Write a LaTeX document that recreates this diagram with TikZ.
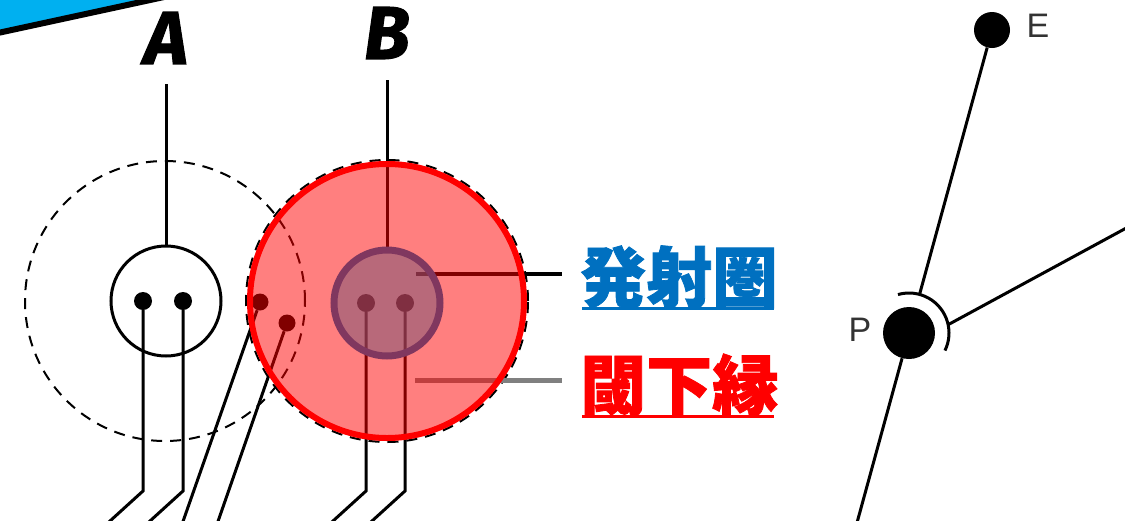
\documentclass[tikz,border=0pt]{standalone}
\usepackage{fontspec}
\newfontfamily\letterfont{Fira Sans}[FakeBold=1.5]
\newfontfamily\cjkfont{Noto Sans CJK JP}[FakeBold=1.2]
\newfontfamily\pointfont{Liberation Sans}
\usetikzlibrary{positioning}
\definecolor{wedgeblue}{HTML}{00B0F0}
\definecolor{ringblue}{HTML}{0070C0}
\begin{document}
\begin{tikzpicture}[x=1pt,y=-1pt,
    wire/.style={line width=3pt},
    dot/.style={circle,fill=black,inner sep=0pt,minimum size=18pt},
    spot/.style={circle,fill=black,inner sep=0pt,minimum size=#1},
    cell/.style={circle,draw,line width=3pt,inner sep=0pt,minimum size=110pt},
    field/.style={circle,draw,line width=2pt,dash pattern=on 11pt off 8pt,inner sep=0pt,minimum size=280pt},
    ring/.style={circle,draw=ringblue,line width=7pt,fill=wedgeblue,fill opacity=0.55,inner sep=0pt,minimum size=106pt},
    zone/.style={circle,draw=red,line width=6pt,fill=red,fill opacity=0.5,inner sep=0pt,minimum size=274pt},
    letter/.style={inner sep=0pt,font=\fontsize{75}{75}\selectfont\letterfont\bfseries\itshape},
    tag/.style={inner sep=0pt,anchor=west,font=\fontsize{66}{66}\selectfont\cjkfont\bfseries},
    pname/.style={inner sep=0pt,text=black!80,font=\fontsize{34}{34}\selectfont\pointfont}]
  \useasboundingbox (0,0) rectangle (1125,520);
  % corner wedge
  \fill[wedgeblue] (0,0) -- (150,0) -- (0,32.5) -- cycle;
  \draw[line width=6pt] (-10,34.7) -- (165,-3.2);
  % labels
  \node[letter] (A) at (166,38) {A};
  \node[letter] (B) at (387,33) {B};
  \node[tag,text=ringblue] (emit) at (580,277) {発射圏};
  \node[tag,text=red] (edge) at (580,385) {閾下縁};
  % cell A
  \node[field] (Afield) at (165,301) {};
  \node[cell] (Acell) at (166,301) {};
  \draw[wire,shorten <=20pt] (A) -- (Acell);
  % cell B
  \node[field,minimum size=282pt] (Bfield) at (387,301) {};
  \node[cell,minimum size=106pt] (Bcell) at (387,303) {};
  \draw[wire,shorten <=21pt] (B) -- (Bcell);
  \foreach \n/\x/\y in {a1/143/301,a2/183/301,b1/366/303,b2/405/303}{
    \node[dot] (\n) at (\x,\y) {};
    \coordinate (\n-bend) at (\x,491);
    \coordinate (\n-end) at ([shift={(-44,40)}]\n-bend);
    \draw[wire] (\n) -- (\n-bend) -- (\n-end);
  }
  \foreach \n/\x/\y/\ex in {r1/260/302/180,r2/287/323/215}{
    \node[dot,minimum size=17pt] (\n) at (\x,\y) {};
    \coordinate (\n-end) at (\ex,530);
    \draw[wire] (\n) -- (\n-end);
  }
  % leaders
  \coordinate (emit-lead) at (416,274);
  \coordinate (edge-lead) at (415,380);
  \draw[line width=4pt,shorten >=18pt] (emit-lead) -- (emit-lead -| emit.west);
  \draw[line width=5pt,gray,shorten >=18pt] (edge-lead) -- (edge-lead -| edge.west);
  % overlays
  \node[ring] (Bring) at (Bcell) {};
  \node[zone] (Bzone) at (387,301) {};
  \draw[ringblue,line width=3pt,shorten <=2pt,shorten >=4pt] (emit.south west) -- (emit.south east);
  \draw[red,line width=3pt,shorten <=2pt,shorten >=4pt] (edge.south west) -- (edge.south east);
  % E and P
  \node[spot=36pt] (E) at (992,30) {};
  \node[spot=52pt] (P) at (909,333) {};
  \node[pname] (Elab) at (1038,26) {E};
  \node[pname] (Plab) at (860,330) {P};
  \coordinate (P-top) at ([shift={(74.7:40pt)}]P.center);
  \coordinate (P-side) at ([shift={(12:40pt)}]P.center);
  \coordinate (P-low) at (855,530);
  \coordinate (far) at (1130,226);
  \draw[wire] (E) -- (P-top);
  \draw[wire] (far) -- (P-side);
  \draw[wire] (P) -- (P-low);
  \draw[wire] ([shift={(106:40pt)}]P.center) arc[start angle=106,end angle=-26,radius=40pt];
\end{tikzpicture}
\end{document}
